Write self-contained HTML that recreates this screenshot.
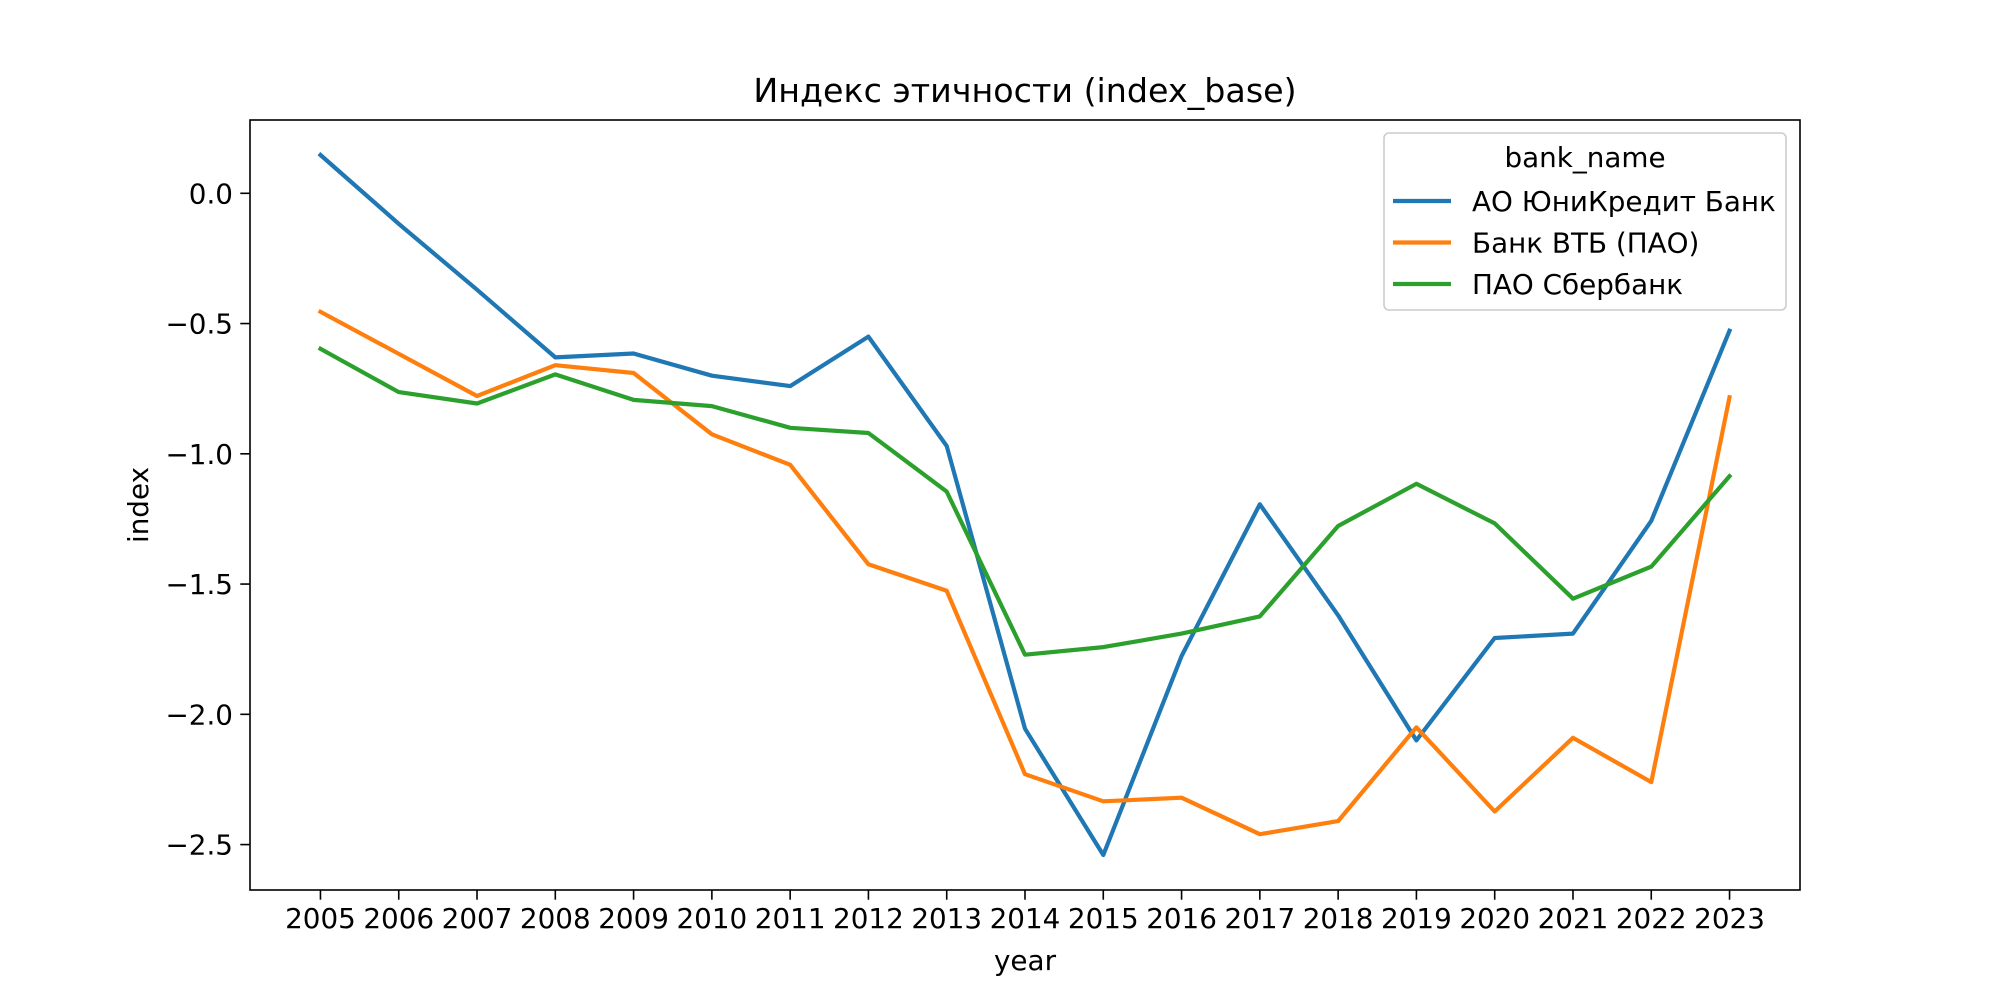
<!DOCTYPE html>
<html><head><meta charset="utf-8"><style>
html,body{margin:0;padding:0;background:#fff;}
svg{display:block;font-family:"DejaVu Sans","Liberation Sans",sans-serif;}
</style></head><body>
<svg id="chart" width="2000" height="1000" viewBox="0 0 2000 1000" xmlns="http://www.w3.org/2000/svg">
<rect width="2000" height="1000" fill="#fff"/>
<text x="1025" y="102" font-size="33.3" text-anchor="middle">Индекс этичности (index_base)</text>
<g id="grid"></g>
<g id="series"></g>
<rect x="250" y="120" width="1550" height="770" fill="none" stroke="#000" stroke-width="1.6"/>
<g id="xticks"></g>
<g id="yticks"></g>
<text x="1025" y="970" font-size="27.8" text-anchor="middle">year</text>
<text x="148" y="505" font-size="27.8" text-anchor="middle" transform="rotate(-90 148 505)">index</text>
<g id="legend"></g>
</svg>
<script>
const years = [2005,2006,2007,2008,2009,2010,2011,2012,2013,2014,2015,2016,2017,2018,2019,2020,2021,2022,2023];
const seriesNames = ["АО ЮниКредит Банк","Банк ВТБ (ПАО)","ПАО Сбербанк"];
const unicredit = [0.147,-0.117,-0.37,-0.63,-0.615,-0.70,-0.74,-0.55,-0.97,-2.055,-2.54,-1.776,-1.194,-1.62,-2.10,-1.707,-1.69,-1.257,-0.528];
const vtb = [-0.455,-0.616,-0.778,-0.66,-0.69,-0.925,-1.042,-1.424,-1.526,-2.23,-2.334,-2.32,-2.46,-2.41,-2.05,-2.373,-2.09,-2.26,-0.783];
const sber = [-0.597,-0.763,-0.807,-0.695,-0.793,-0.817,-0.90,-0.92,-1.145,-1.771,-1.742,-1.69,-1.624,-1.277,-1.115,-1.267,-1.556,-1.433,-1.086];
const yTicks = [0.0,-0.5,-1.0,-1.5,-2.0,-2.5];
const yTickLabels = ["0.0","−0.5","−1.0","−1.5","−2.0","−2.5"];
const colors = ["#1f77b4","#ff7f0e","#2ca02c"];

const NS="http://www.w3.org/2000/svg";
const L=250,R=1800,T=120,B=890;
const allV=unicredit.concat(vtb,sber);
const vmin=Math.min(...allV), vmax=Math.max(...allV), vr=vmax-vmin;
const y0=vmin-0.05*vr, y1=vmax+0.05*vr;
const x0=years[0]-0.05*(years[years.length-1]-years[0]), x1=years[years.length-1]+0.05*(years[years.length-1]-years[0]);
const xS=v=>L+(v-x0)/(x1-x0)*(R-L);
const yS=v=>B-(v-y0)/(y1-y0)*(B-T);
function mk(tag,attrs,parent){const e=document.createElementNS(NS,tag);for(const k in attrs)e.setAttribute(k,attrs[k]);parent.appendChild(e);return e;}

const xg=document.getElementById('xticks');
years.forEach(yr=>{
  const x=xS(yr);
  const t=mk('line',{x1:x,x2:x,y1:B,y2:B+9.7,stroke:'#000','stroke-width':1.6},xg);
  
  
  const tx=mk('text',{x:x,y:B+38,'font-size':27.8,'text-anchor':'middle'},xg);
  tx.textContent=yr;
  
  
});
const yg=document.getElementById('yticks');
yTicks.forEach((v,i)=>{
  const y=yS(v);
  const t=mk('line',{x1:L-9.7,x2:L,y1:y,y2:y,stroke:'#000','stroke-width':1.6},yg);
  
  
  const tx=mk('text',{x:L-17,y:y+10,'font-size':27.8,'text-anchor':'end'},yg);
  tx.textContent=yTickLabels[i];
  
  
});
const sg=document.getElementById('series');
[unicredit,vtb,sber].forEach((arr,i)=>{
  const pts=arr.map((v,j)=>xS(years[j]).toFixed(1)+','+yS(v).toFixed(1)).join(' ');
  const p=mk('polyline',{points:pts,fill:'none',stroke:colors[i],'stroke-width':4.2,'stroke-linejoin':'round','stroke-linecap':'square'},sg);
  
  
});
const lg=document.getElementById('legend');
const box=mk('rect',{x:1384,y:133,width:402,height:177,rx:5,fill:'#fff','fill-opacity':0.8,stroke:'#ccc','stroke-width':1.6},lg);


const lt=mk('text',{x:1585,y:167,'font-size':27.8,'text-anchor':'middle'},lg);
lt.textContent='bank_name';


seriesNames.forEach((n,i)=>{
  const y=201+i*41.5;
  const l=mk('line',{x1:1393,x2:1451,y1:y,y2:y,stroke:colors[i],'stroke-width':4.2},lg);
  
  
  const t=mk('text',{x:1472,y:y+10,'font-size':27.8},lg);
  t.textContent=n;
  
  
});
</script>
</body></html>
